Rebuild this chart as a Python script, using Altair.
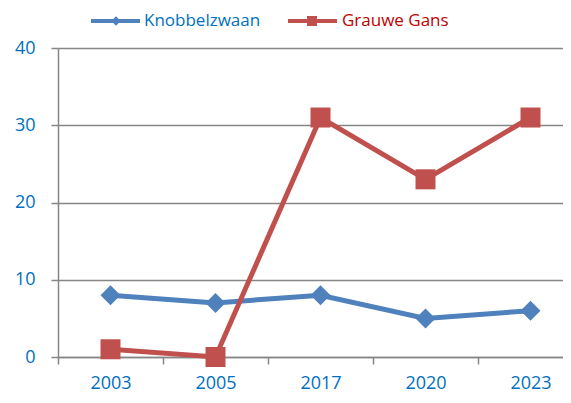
import altair as alt
import pandas as pd

years = ["2003", "2005", "2017", "2020", "2023"]
knobbelzwaan = [8, 7, 8, 5, 6]
grauwe_gans = [1, 0, 31, 23, 31]
series = ["Knobbelzwaan", "Grauwe Gans"]
colors = ["#4F81BD", "#C0504D"]
text_colors = ["#0070C0", "#C00000"]
shapes = ["diamond", "square"]
sizes = [400, 400]
y_ticks = [0, 10, 20, 30, 40]

rows = []
for s, vals in zip(series, [knobbelzwaan, grauwe_gans]):
    for yr, v in zip(years, vals):
        rows.append({"year": yr, "series": s, "value": v})
df = pd.DataFrame(rows)

GREY = "#868686"
FONT = "Open Sans"

x = alt.X(
    "year:N", sort=years,
    scale=alt.Scale(range=[0, 525], paddingInner=0, paddingOuter=0),
    axis=alt.Axis(title=None, labelAngle=0, tickBand="extent", grid=False,
                  domainColor=GREY, domainWidth=1.5, tickColor=GREY, tickWidth=1.5,
                  tickSize=7, labelPadding=10, labelColor="#0070C0",
                  labelFont=FONT, labelFontSize=18),
)
y = alt.Y(
    "value:Q",
    scale=alt.Scale(domain=[0, 40], nice=False),
    axis=alt.Axis(values=y_ticks, title=None, grid=True, gridColor=GREY, gridWidth=1.5,
                  domainColor=GREY, domainWidth=1.5, tickColor=GREY, tickWidth=1.5,
                  tickSize=7, labelPadding=16, labelColor="#0070C0",
                  labelFont=FONT, labelFontSize=18),
)
color = alt.Color("series:N", scale=alt.Scale(domain=series, range=colors), legend=None)

base = alt.Chart(df)
lines = base.mark_line(strokeWidth=5).encode(x=x, y=y, color=color, order=alt.Order("year:N"))
points = base.mark_point(filled=True, opacity=1).encode(
    x=x, y=y, color=color,
    shape=alt.Shape("series:N", scale=alt.Scale(domain=series, range=shapes), legend=None),
    size=alt.Size("series:N", scale=alt.Scale(domain=series, range=sizes), legend=None),
)

one = pd.DataFrame({"k": [0]})
leg_y = -27
legend_layers = []
for i, (lx, sx, tx) in enumerate([(33, 58, 86), (230, 254, 284)]):
    legend_layers.append(
        alt.Chart(one).mark_rule(color=colors[i], strokeWidth=4).encode(
            x=alt.value(lx), x2=alt.value(lx + 49), y=alt.value(leg_y)))
    legend_layers.append(
        alt.Chart(one).mark_point(filled=True, opacity=1, color=colors[i], shape=shapes[i],
                                  size=90 if i == 0 else 100).encode(
            x=alt.value(sx), y=alt.value(leg_y)))
    legend_layers.append(
        alt.Chart(one).mark_text(align="left", baseline="middle", font=FONT, fontSize=17,
                                 color=text_colors[i]).encode(
            x=alt.value(tx), y=alt.value(leg_y), text=alt.value(series[i])))

chart = alt.layer(lines, points, *legend_layers).properties(
    width=505, height=309,
    padding={"left": 50, "top": 40, "right": 0, "bottom": 38},
    autosize="none",
).configure_view(stroke=None).configure(background="white")

chart.save("out.html", embed_options={"renderer": "svg", "actions": False})
